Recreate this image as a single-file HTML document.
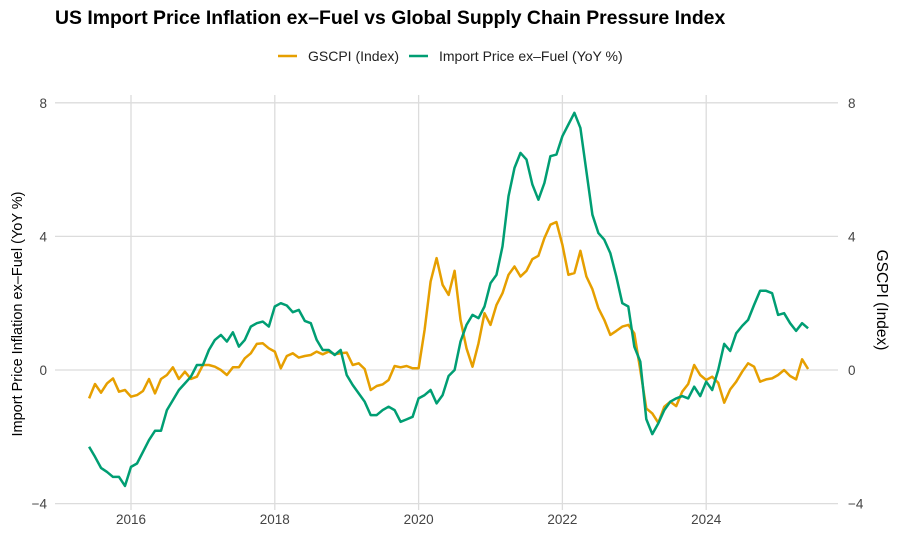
<!DOCTYPE html>
<html><head><meta charset="utf-8"><style>
body{margin:0;background:#fff;width:898px;height:536px;overflow:hidden;font-family:"Liberation Sans",Arial,sans-serif}
</style></head><body>
<svg id="chart" width="898" height="536" xmlns="http://www.w3.org/2000/svg" font-family="Liberation Sans, Arial, sans-serif">
<text x="55" y="24" font-size="19.4" font-weight="bold" fill="#000">US Import Price Inflation ex–Fuel vs Global Supply Chain Pressure Index</text>
<g>
<g><line x1="278" y1="56" x2="297" y2="56" stroke="#E69F00" stroke-width="2.5"/><text x="308" y="61" font-size="14" fill="#222">GSCPI (Index)</text></g>
<g><line x1="409" y1="56" x2="428" y2="56" stroke="#009E73" stroke-width="2.5"/><text x="439" y="61" font-size="14" fill="#222">Import Price ex–Fuel (YoY %)</text></g>
</g>
<g id="grid"></g>
<g id="axes"></g>
<g id="series"></g>
<text transform="translate(22,314) rotate(-90)" text-anchor="middle" font-size="14.5" fill="#000">Import Price Inflation ex–Fuel (YoY %)</text>
<text transform="translate(877,300) rotate(90)" text-anchor="middle" font-size="15.5" fill="#000">GSCPI (Index)</text>
</svg>
<script>
const startYear = 2015, startMonth = 6;
const xTicks = [2016, 2018, 2020, 2022, 2024];
const yTicks = [-4, 0, 4, 8];
const yTickLabels = ["−4", "0", "4", "8"];
const importPrice = [-2.3,-2.6,-2.93,-3.05,-3.2,-3.2,-3.47,-2.9,-2.8,-2.45,-2.1,-1.82,-1.82,-1.2,-0.9,-0.6,-0.4,-0.2,0.15,0.15,0.6,0.9,1.05,0.85,1.13,0.7,0.9,1.3,1.4,1.45,1.3,1.9,2.0,1.93,1.73,1.8,1.47,1.4,0.9,0.6,0.6,0.45,0.6,-0.15,-0.45,-0.7,-0.95,-1.35,-1.35,-1.2,-1.1,-1.2,-1.55,-1.48,-1.4,-0.85,-0.75,-0.6,-1.0,-0.75,-0.18,0.0,0.85,1.35,1.65,1.55,1.9,2.6,2.85,3.7,5.2,6.05,6.5,6.3,5.55,5.1,5.6,6.4,6.45,7.0,7.35,7.7,7.25,5.95,4.65,4.1,3.9,3.5,2.8,2.0,1.9,0.7,0.25,-1.47,-1.92,-1.6,-1.2,-0.95,-0.85,-0.78,-0.85,-0.5,-0.78,-0.35,-0.6,0,0.78,0.57,1.1,1.32,1.5,1.95,2.37,2.37,2.3,1.65,1.7,1.4,1.17,1.4,1.25];
const gscpi = [-0.85,-0.42,-0.68,-0.4,-0.25,-0.65,-0.6,-0.8,-0.75,-0.63,-0.27,-0.7,-0.27,-0.15,0.08,-0.27,-0.05,-0.27,-0.2,0.15,0.15,0.1,0,-0.15,0.08,0.08,0.35,0.5,0.78,0.8,0.65,0.55,0.05,0.42,0.5,0.37,0.42,0.45,0.55,0.47,0.55,0.47,0.5,0.52,0.15,0.2,0.03,-0.6,-0.48,-0.43,-0.3,0.12,0.08,0.12,0.05,0.05,1.2,2.65,3.35,2.55,2.25,2.97,1.5,0.65,0.1,0.8,1.7,1.35,1.95,2.3,2.85,3.1,2.8,2.97,3.32,3.42,3.95,4.35,4.43,3.75,2.85,2.9,3.57,2.8,2.42,1.85,1.5,1.05,1.17,1.3,1.35,1.1,0,-1.15,-1.3,-1.58,-1.1,-0.95,-1.08,-0.65,-0.42,0.15,-0.15,-0.3,-0.2,-0.38,-0.98,-0.58,-0.35,-0.05,0.2,0.1,-0.35,-0.28,-0.25,-0.15,0,-0.18,-0.28,0.32,0.03];

const NS = "http://www.w3.org/2000/svg";
const pxPerYear = 71.9, x2016 = 131;
function xYear(y){ return x2016 + (y - 2016) * pxPerYear; }
function xIdx(i){ return xYear(startYear + (startMonth - 1 + i) / 12); }
function yScale(v){ return 370 - v * 33.4; }
function mk(tag, attrs, parent){ const e = document.createElementNS(NS, tag); for (const k in attrs) e.setAttribute(k, attrs[k]); parent.appendChild(e); return e; }

const grid = document.getElementById('grid');
const axes = document.getElementById('axes');
yTicks.forEach((t, k) => {
  const l = mk('line', {x1:55, x2:838, y1:yScale(t), y2:yScale(t), stroke:'#dcdcdc', 'stroke-width':1.3}, grid);
  
  
  const a = mk('text', {x:47, y:yScale(t)+5, 'text-anchor':'end', 'font-size':13.5, fill:'#444'}, axes);
  a.textContent = yTickLabels[k];
  
  
  const b = mk('text', {x:848, y:yScale(t)+5, 'text-anchor':'start', 'font-size':13.5, fill:'#444'}, axes);
  b.textContent = yTickLabels[k];
  
  
});
xTicks.forEach(t => {
  const l = mk('line', {x1:xYear(t), x2:xYear(t), y1:95, y2:510, stroke:'#dcdcdc', 'stroke-width':1.3}, grid);
  
  
  const a = mk('text', {x:xYear(t), y:524, 'text-anchor':'middle', 'font-size':13.5, fill:'#444'}, axes);
  a.textContent = t;
  
  
});
const series = document.getElementById('series');
function drawLine(vals, color, name){
  const d = vals.map((v, i) => (i ? 'L' : 'M') + xIdx(i).toFixed(1) + ',' + yScale(v).toFixed(1)).join(' ');
  const p = mk('path', {d:d, fill:'none', stroke:color, 'stroke-width':2.5, 'stroke-linejoin':'round'}, series);
  
  
}
drawLine(gscpi, '#E69F00', 'gscpi-line');
drawLine(importPrice, '#009E73', 'import-price-line');
</script>
</body></html>
